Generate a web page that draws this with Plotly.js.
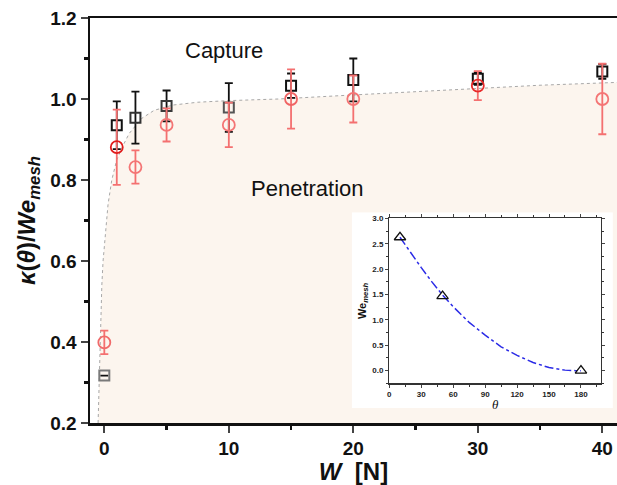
<!DOCTYPE html>
<html>
<head>
<meta charset="utf-8">
<script src="https://cdn.plot.ly/plotly-3.0.1.min.js"></script>
<style>html,body{margin:0;padding:0;background:#fff;}#chart{width:617px;height:485px;}</style>
</head>
<body>
<div id="chart"></div>
<script>
// ---- data ----
const weight = [0, 1, 2.5, 5, 10, 15, 20, 30, 40];
const squareVal = [0.317, 0.935, 0.954, 0.983, 0.979, 1.033, 1.047, 1.050, 1.068];
const squareErr = [0, 0.059, 0.064, 0.038, 0.060, 0.030, 0.053, 0.015, 0.018];
const circleVal = [0.399, 0.881, 0.832, 0.936, 0.936, 1.000, 1.000, 1.033, 1.000];
const circleErr = [0.029, 0.093, 0.041, 0.041, 0.055, 0.073, 0.058, 0.036, 0.087];

const boundaryW = [-0.5, -0.4, -0.3, -0.2, -0.1, 0, 0.1, 0.3, 0.6, 1.0, 1.5, 2.0, 3.0, 4.0, 5.5, 7.5, 10, 14, 20, 25, 30, 35, 41.2];
const boundaryK = [0.2, 0.33, 0.45, 0.54, 0.60, 0.64, 0.67, 0.74, 0.80, 0.85, 0.885, 0.915, 0.952, 0.972, 0.985, 0.992, 0.996, 1.0, 1.01, 1.018, 1.027, 1.034, 1.041];

const insetTheta = [10, 50, 180];
const insetWe = [2.63, 1.47, 0.0];
const fitTheta = [10, 20, 30, 40, 50, 60, 75, 90, 105, 120, 135, 150, 165, 175, 180];
const fitWe = [2.63, 2.32, 2.03, 1.75, 1.49, 1.26, 0.95, 0.70, 0.47, 0.30, 0.16, 0.06, 0.01, 0.0, 0.0];

const xTicks = [0, 10, 20, 30, 40];
const insetXTicks = [0, 30, 60, 90, 120, 150, 180];

// ---- styles ----
const squareLineColors = ['#7a7a7a', '#111111', '#333333', '#3a3a3a', '#555555', '#111111', '#111111', '#111111', '#111111'];
const circleLineColors = ['#f06a6a', '#e01b1b', '#f47575', '#f47575', '#f47575', '#f06464', '#f47575', '#e82a2a', '#f47575'];
const FONT = 'Arial, "Liberation Sans", Helvetica, sans-serif';

const traces = [
  { // penetration region
    x: boundaryW, y: boundaryK, type: 'scatter', mode: 'lines',
    line: {color: '#a8a8a8', width: 1, dash: 'dot'},
    fill: 'tozeroy', fillcolor: '#fcf5ee', hoverinfo: 'skip'
  },
  {
    x: weight, y: squareVal, type: 'scatter', mode: 'markers',
    marker: {symbol: 'square-open', size: 10, color: squareLineColors, line: {width: 2, color: squareLineColors}},
    error_y: {type: 'data', array: squareErr, visible: true, color: '#111111', thickness: 1.8, width: 4}
  },
  {
    x: weight, y: circleVal, type: 'scatter', mode: 'markers',
    marker: {symbol: 'circle-open', size: 12, color: circleLineColors, line: {width: 1.8, color: circleLineColors}},
    error_y: {type: 'data', array: circleErr, visible: true, color: '#f47070', thickness: 1.8, width: 4}
  },
  { // frame subplot for inset white box
    x: [], y: [], type: 'scatter', mode: 'markers', xaxis: 'x2', yaxis: 'y2'
  },
  {
    x: fitTheta, y: fitWe, type: 'scatter', mode: 'lines', xaxis: 'x3', yaxis: 'y3',
    line: {color: '#2b2be6', width: 1.5, dash: 'dashdot'}
  },
  {
    x: insetTheta, y: insetWe, type: 'scatter', mode: 'markers', xaxis: 'x3', yaxis: 'y3',
    marker: {symbol: 'triangle-up-open', size: 10, color: '#111', line: {width: 1.3, color: '#111'}}
  }
];

const layout = {
  width: 617, height: 485,
  margin: {l: 90, r: 0, t: 18, b: 62},
  paper_bgcolor: '#ffffff', plot_bgcolor: '#ffffff',
  showlegend: false,
  font: {family: FONT, color: '#111'},
  xaxis: {
    range: [-1.15, 41.18], tickvals: xTicks, ticks: 'outside', ticklen: 7, tickwidth: 2.2,
    showline: true, linewidth: 2.5, linecolor: '#111', mirror: true,
    showgrid: false, zeroline: false,
    minor: {tick0: 0, dtick: 5, ticks: 'outside', ticklen: 4, tickwidth: 2.2, tickcolor: '#111', showgrid: false},
    tickfont: {size: 19, weight: 'bold', family: FONT, color: '#111'},
    title: {text: '<i>W</i>  [N]', font: {size: 24, weight: 'bold', family: FONT, color: '#111'}, standoff: 8}
  },
  yaxis: {
    range: [0.2, 1.2], tick0: 0.2, dtick: 0.2, tickformat: '.1f', ticks: 'outside', ticklen: 7, tickwidth: 2.2,
    showline: true, linewidth: 2.5, linecolor: '#111', mirror: false,
    showgrid: false, zeroline: false,
    minor: {tick0: 0.2, dtick: 0.1, ticks: 'outside', ticklen: 4, tickwidth: 2.2, tickcolor: '#111', showgrid: false},
    tickfont: {size: 19, weight: 'bold', family: FONT, color: '#111'},
    title: {text: '<i>κ</i>(<i>θ</i>)/<i>We</i><sub><i>mesh</i></sub>', font: {size: 24, weight: 'bold', family: FONT, color: '#111'}, standoff: 8}
  },
  xaxis2: {domain: [0.497, 0.992], anchor: 'y2', visible: false, range: [0, 1], fixedrange: true},
  yaxis2: {domain: [0.037, 0.52], anchor: 'x2', visible: false, range: [0, 1], fixedrange: true},
  xaxis3: {
    domain: [0.568, 0.970], anchor: 'y3', range: [0, 199], tickvals: insetXTicks,
    ticks: 'outside', ticklen: 3, tickwidth: 1, showline: true, linewidth: 1.3, linecolor: '#333', mirror: 'ticks',
    showgrid: false, zeroline: false,
    minor: {tick0: 0, dtick: 15, ticks: 'outside', ticklen: 2, tickwidth: 1, tickcolor: '#333', showgrid: false},
    tickfont: {size: 8, weight: 'bold', family: FONT, color: '#222'},
    title: {text: '<i>θ</i>', font: {size: 13, family: 'serif', color: '#111'}, standoff: 1}
  },
  yaxis3: {
    domain: [0.098, 0.505], anchor: 'x3', range: [-0.25, 3.0], tick0: 0, dtick: 0.5, tickformat: '.1f',
    ticks: 'outside', ticklen: 3, tickwidth: 1, showline: true, linewidth: 1.3, linecolor: '#333', mirror: 'ticks',
    showgrid: false, zeroline: false,
    minor: {tick0: 0, dtick: 0.25, ticks: 'outside', ticklen: 2, tickwidth: 1, tickcolor: '#333', showgrid: false},
    tickfont: {size: 8, weight: 'bold', family: FONT, color: '#222'},
    title: {text: '<b>We</b><sub><b><i>mesh</i></b></sub>', font: {size: 11, family: FONT, color: '#111'}, standoff: 3}
  },
  annotations: [
    {text: 'Capture', x: 9.65, y: 1.12, xref: 'x', yref: 'y', showarrow: false,
     font: {size: 22, family: FONT, color: '#111'}},
    {text: 'Penetration', x: 16.3, y: 0.78, xref: 'x', yref: 'y', showarrow: false,
     font: {size: 22, family: FONT, color: '#111'}}
  ]
};

Plotly.newPlot('chart', traces, layout, {displayModeBar: false, staticPlot: true});
</script>
</body>
</html>
